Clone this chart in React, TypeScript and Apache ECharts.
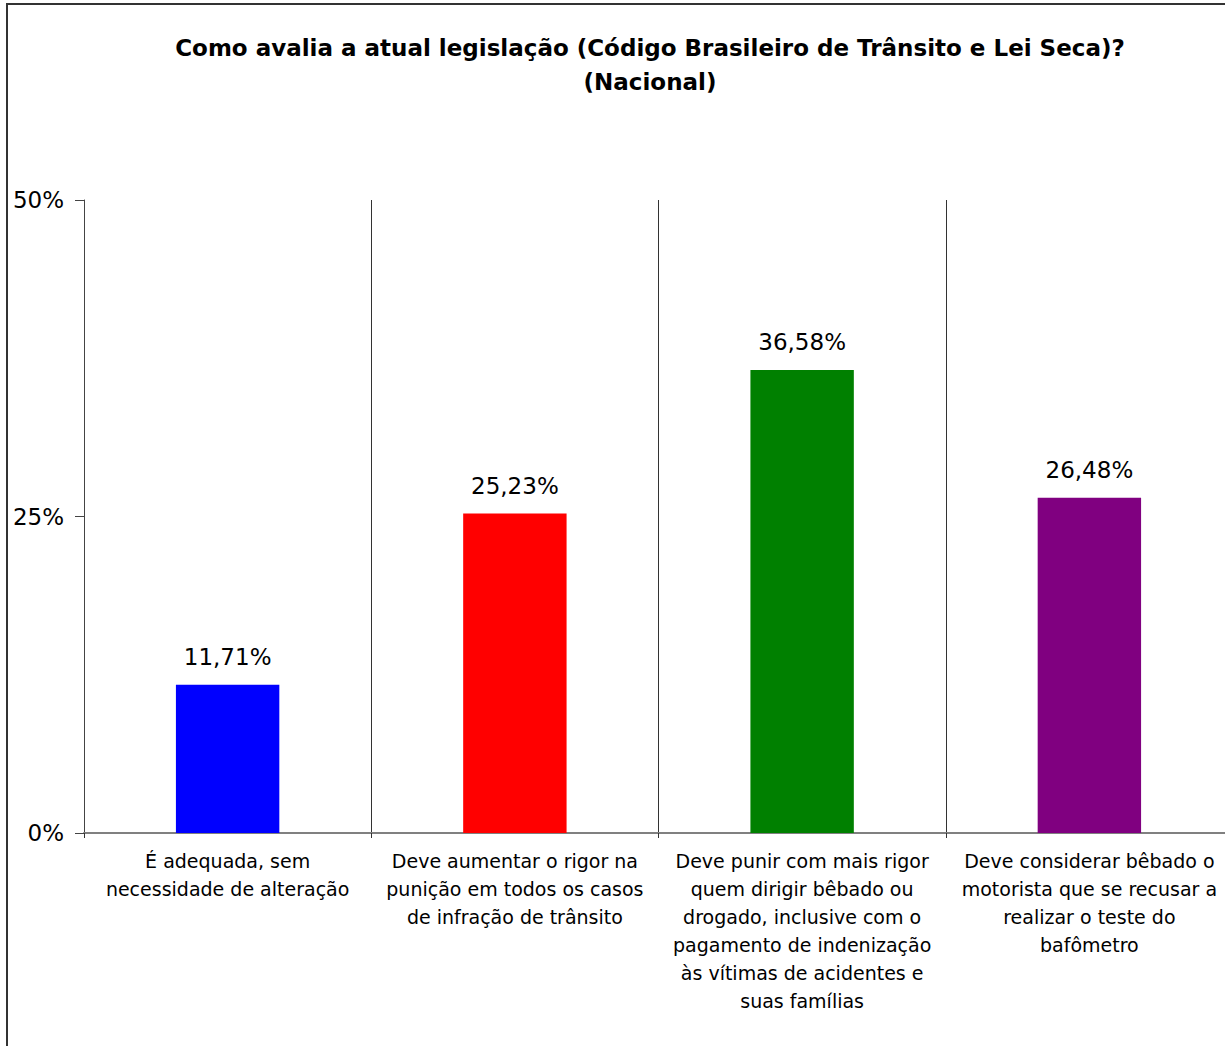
import React, { useEffect, useRef } from "react";
import * as echarts from "echarts";

const titleLines = [
  "Como avalia a atual legislação (Código Brasileiro de Trânsito e Lei Seca)?",
  "(Nacional)",
];
const categories = [
  "É adequada, sem\nnecessidade de alteração",
  "Deve aumentar o rigor na\npunição em todos os casos\nde infração de trânsito",
  "Deve punir com mais rigor\nquem dirigir bêbado ou\ndrogado, inclusive com o\npagamento de indenização\nàs vítimas de acidentes e\nsuas famílias",
  "Deve considerar bêbado o\nmotorista que se recusar a\nrealizar o teste do\nbafômetro",
];
const values = [11.71, 25.23, 36.58, 26.48];
const colors = ["#0000FF", "#FF0000", "#008000", "#800080"];
const yMin = 0;
const yMax = 50;
const yInterval = 25;

const FONT = "'DejaVu Sans', 'Noto Sans', sans-serif";

export default function App() {
  const ref = useRef<HTMLDivElement>(null);
  useEffect(() => {
    document.body.style.margin = "0";
    const chart = echarts.init(ref.current!, undefined, { renderer: "svg" });
    chart.setOption({
      animation: false,
      backgroundColor: "#ffffff",
      textStyle: { fontFamily: FONT },
      title: {
        text: titleLines.join("\n"),
        left: 645,
        top: 26,
        textAlign: "center",
        textStyle: {
          fontFamily: FONT,
          fontSize: 23,
          fontWeight: "bold",
          lineHeight: 34,
          color: "#000",
        },
      },
      graphic: [
        {
          type: "rect",
          shape: { x: 7, y: 4, width: 1400, height: 1200 },
          style: { fill: "none", stroke: "#333", lineWidth: 2 },
          silent: true,
        },
      ],
      grid: { left: 84, top: 200, width: 1149, height: 633 },
      xAxis: {
        type: "category",
        data: categories,
        boundaryGap: true,
        axisLine: { show: true, lineStyle: { color: "#808080", width: 2 } },
        axisTick: { show: true, length: 5, interval: 0, lineStyle: { color: "#333" } },
        splitLine: { show: true, interval: 0, lineStyle: { color: "#333", width: 1 } },
        axisLabel: {
          interval: 0,
          margin: 14,
          fontFamily: FONT,
          fontSize: 19,
          lineHeight: 28,
          color: "#000",
          verticalAlign: "top",
        },
      },
      yAxis: {
        type: "value",
        min: yMin,
        max: yMax,
        interval: yInterval,
        axisLine: { show: true, lineStyle: { color: "#444", width: 1 } },
        axisTick: { show: true, length: 9, lineStyle: { color: "#444" } },
        splitLine: { show: false },
        axisLabel: {
          formatter: "{value}%",
          margin: 20,
          fontFamily: FONT,
          fontSize: 23,
          color: "#000",
        },
      },
      series: [
        {
          type: "bar",
          barWidth: "36%",
          data: values.map((v, i) => ({ value: v, itemStyle: { color: colors[i] } })),
          label: {
            show: true,
            position: "top",
            distance: 16,
            fontFamily: FONT,
            fontSize: 23,
            color: "#000",
            formatter: (p: any) => p.value.toFixed(2).replace(".", ",") + "%",
          },
        },
      ],
    });
    return () => chart.dispose();
  }, []);
  return (
    <div style={{ width: 1225, height: 1046, overflow: "hidden" }}>
      <div ref={ref} style={{ width: 1300, height: 1046 }} />
    </div>
  );
}
